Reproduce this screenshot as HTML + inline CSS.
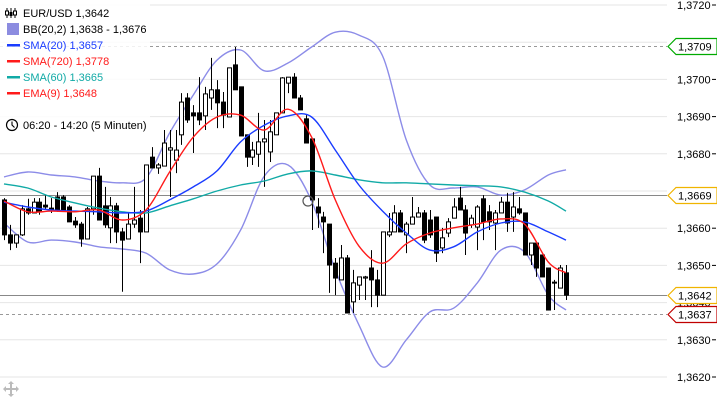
<!DOCTYPE html>
<html><head><meta charset="utf-8"><style>
html,body{margin:0;padding:0;background:#fff;}
svg{display:block;font-family:"Liberation Sans",sans-serif;}
</style></head><body>
<svg id="chart" width="717" height="401" viewBox="0 0 717 401" xmlns="http://www.w3.org/2000/svg">
<g id="grid"></g>
<g id="refs"></g>
<g id="bands"></g>
<g id="candles"></g>
<g id="mas"></g>
<g id="axis"></g>
<g id="badges"></g>
<circle cx="308" cy="201" r="5" fill="none" stroke="#555" stroke-width="1.2"/>
<g font-size="11">
  <rect x="0" y="0" width="150" height="140" fill="#fff" opacity="0.85"/>
  <g>
    <g stroke="#000" stroke-width="1"><line x1="7" y1="8" x2="7" y2="18"/><line x1="11" y1="8" x2="11" y2="18"/><line x1="15" y1="8" x2="15" y2="18"/></g>
    <rect x="5.5" y="11" width="3" height="4" fill="#fff" stroke="#000"/><rect x="9.5" y="12" width="3" height="4" fill="#000"/><rect x="13.5" y="11" width="3" height="4" fill="#fff" stroke="#000"/>
    <text x="23" y="17" fill="#000">EUR/USD 1,3642</text></g>
  <g><rect x="7" y="23" width="12" height="12" fill="#8c8ce0"/><text x="23" y="33" fill="#000">BB(20,2) 1,3638 - 1,3676</text></g>
  <g><rect x="7" y="44" width="13" height="2.5" fill="#1a3cff"/><text x="23" y="49" fill="#1a3cff">SMA(20) 1,3657</text></g>
  <g><rect x="7" y="60" width="13" height="2.5" fill="#ff1a1a"/><text x="23" y="65" fill="#ff1a1a">SMA(720) 1,3778</text></g>
  <g><rect x="7" y="76" width="13" height="2.5" fill="#11aaa6"/><text x="23" y="81" fill="#11aaa6">SMA(60) 1,3665</text></g>
  <g><rect x="7" y="92" width="13" height="2.5" fill="#ff1a1a"/><text x="23" y="97" fill="#ff1a1a">EMA(9) 1,3648</text></g>
  <g><circle cx="12" cy="125" r="5.5" fill="none" stroke="#000" stroke-width="1.2"/><path d="M12 121.5 V125 L14.5 127.5" fill="none" stroke="#000" stroke-width="1.1"/><text x="23" y="129" fill="#000">06:20 - 14:20 (5 Minuten)</text></g>
</g>
<g fill="#bbb">
  <rect x="10" y="384" width="2" height="10"/><rect x="6" y="388" width="10" height="2"/>
  <path d="M11 381 l-3 3 h6z M11 397 l-3 -3 h6z M3 389 l3 -3 v6z M19 389 l-3 -3 v6z"/>
</g>
</svg>
<script>
const tickValues=[1.3720,1.3710,1.3700,1.3690,1.3680,1.3670,1.3660,1.3650,1.3640,1.3630,1.3620];
const tickLabels=["1,3720","1,3710","1,3700","1,3690","1,3680","1,3670","1,3660","1,3650","1,3640","1,3630","1,3620"];
const opens=[1.36676,1.36582,1.36560,1.36582,1.36652,1.36641,1.36670,1.36662,1.36654,1.36684,1.36684,1.36657,1.36619,1.36611,1.36571,1.36652,1.36740,1.36660,1.36601,1.36660,1.36590,1.36571,1.36611,1.36627,1.36590,1.36791,1.36762,1.36767,1.36810,1.36783,1.36851,1.36950,1.36910,1.36910,1.36902,1.36950,1.36972,1.36939,1.36899,1.37039,1.36980,1.36851,1.36791,1.36799,1.36832,1.36805,1.36851,1.36910,1.36990,1.37006,1.36950,1.36894,1.36840,1.36657,1.36630,1.36611,1.36506,1.36461,1.36520,1.36402,1.36447,1.36466,1.36493,1.36461,1.36420,1.36582,1.36590,1.36641,1.36582,1.36611,1.36630,1.36641,1.36622,1.36630,1.36547,1.36587,1.36627,1.36681,1.36649,1.36609,1.36603,1.36679,1.36644,1.36614,1.36641,1.36670,1.36630,1.36652,1.36641,1.36528,1.36560,1.36528,1.36493,1.36455,1.36439,1.36480];
const highs=[1.36681,1.36609,1.36582,1.36662,1.36679,1.36681,1.36681,1.36689,1.36681,1.36697,1.36689,1.36662,1.36630,1.36617,1.36657,1.36740,1.36762,1.36711,1.36684,1.36668,1.36601,1.36641,1.36711,1.36649,1.36770,1.36818,1.36775,1.36864,1.36864,1.36864,1.36963,1.36963,1.36931,1.37006,1.36980,1.37058,1.36998,1.36966,1.37031,1.37087,1.36980,1.36851,1.36832,1.36910,1.36891,1.36891,1.36910,1.37006,1.37006,1.37017,1.36958,1.36904,1.36840,1.36681,1.36644,1.36611,1.36520,1.36555,1.36528,1.36488,1.36469,1.36472,1.36541,1.36488,1.36590,1.36641,1.36662,1.36649,1.36617,1.36684,1.36657,1.36649,1.36649,1.36630,1.36601,1.36627,1.36681,1.36711,1.36662,1.36636,1.36662,1.36689,1.36662,1.36649,1.36684,1.36695,1.36697,1.36684,1.36641,1.36560,1.36560,1.36528,1.36493,1.36461,1.36501,1.36501];
const lows=[1.36568,1.36541,1.36547,1.36579,1.36636,1.36641,1.36636,1.36649,1.36641,1.36644,1.36649,1.36617,1.36601,1.36550,1.36571,1.36636,1.36622,1.36601,1.36560,1.36560,1.36429,1.36571,1.36601,1.36506,1.36590,1.36762,1.36746,1.36767,1.36684,1.36748,1.36824,1.36883,1.36802,1.36877,1.36864,1.36918,1.36869,1.36869,1.36899,1.36972,1.36848,1.36765,1.36770,1.36765,1.36711,1.36778,1.36851,1.36910,1.36963,1.36950,1.36918,1.36829,1.36595,1.36601,1.36533,1.36426,1.36420,1.36461,1.36372,1.36372,1.36407,1.36407,1.36388,1.36388,1.36420,1.36576,1.36590,1.36590,1.36533,1.36611,1.36630,1.36560,1.36574,1.36509,1.36533,1.36576,1.36627,1.36649,1.36528,1.36601,1.36541,1.36568,1.36595,1.36541,1.36641,1.36590,1.36590,1.36636,1.36528,1.36501,1.36469,1.36469,1.36380,1.36380,1.36439,1.36407];
const closes=[1.36582,1.36560,1.36582,1.36652,1.36641,1.36670,1.36644,1.36657,1.36649,1.36649,1.36649,1.36617,1.36609,1.36571,1.36652,1.36740,1.36622,1.36609,1.36660,1.36590,1.36568,1.36611,1.36622,1.36590,1.36770,1.36762,1.36770,1.36829,1.36816,1.36810,1.36939,1.36891,1.36902,1.36891,1.36961,1.36972,1.36937,1.36904,1.37031,1.36972,1.36848,1.36791,1.36810,1.36832,1.36840,1.36859,1.36910,1.37004,1.37006,1.36950,1.36918,1.36829,1.36676,1.36641,1.36617,1.36501,1.36466,1.36520,1.36372,1.36453,1.36469,1.36469,1.36461,1.36420,1.36590,1.36590,1.36641,1.36590,1.36611,1.36630,1.36641,1.36568,1.36582,1.36533,1.36574,1.36617,1.36657,1.36649,1.36587,1.36627,1.36657,1.36617,1.36617,1.36641,1.36670,1.36614,1.36657,1.36641,1.36528,1.36560,1.36493,1.36469,1.36380,1.36453,1.36493,1.36420];
const sampleIdx=[0,4,8,12,16,20,24,28,32,36,40,44,48,52,56,60,64,68,72,76,80,84,88,92,95];
const sma20=[1.36670,1.36657,1.36649,1.36646,1.36644,1.36641,1.36646,1.36676,1.36711,1.36754,1.36832,1.36877,1.36902,1.36899,1.36810,1.36716,1.36646,1.36587,1.36541,1.36550,1.36590,1.36614,1.36617,1.36590,1.36568];
const ema9=[1.36673,1.36644,1.36646,1.36644,1.36649,1.36622,1.36649,1.36751,1.36845,1.36899,1.36904,1.36864,1.36920,1.36845,1.36676,1.36552,1.36506,1.36558,1.36587,1.36601,1.36611,1.36625,1.36611,1.36509,1.36480];
const sma60=[1.36719,1.36708,1.36684,1.36668,1.36654,1.36644,1.36641,1.36660,1.36679,1.36700,1.36716,1.36727,1.36746,1.36754,1.36743,1.36730,1.36722,1.36722,1.36719,1.36716,1.36714,1.36711,1.36697,1.36673,1.36646];
const bbUpper=[1.36738,1.36751,1.36743,1.36738,1.36727,1.36722,1.36735,1.36856,1.36958,1.37052,1.37079,1.37023,1.37044,1.37087,1.37127,1.37119,1.37063,1.36837,1.36716,1.36708,1.36711,1.36689,1.36703,1.36743,1.36757];
const bbLower=[1.36614,1.36563,1.36568,1.36563,1.36550,1.36544,1.36533,1.36488,1.36477,1.36504,1.36595,1.36740,1.36770,1.36673,1.36488,1.36340,1.36227,1.36300,1.36375,1.36385,1.36453,1.36541,1.36536,1.36420,1.36380];
const refValues=[1.3709,1.3669,1.3642,1.3637];
const refLabels=["1,3709","1,3669","1,3642","1,3637"];

const NS="http://www.w3.org/2000/svg";
const yMax=1.3720, yMin=1.3620, yTop=5, yBot=377, plotRight=667;
function yScale(v){return yTop+(yMax-v)/(yMax-yMin)*(yBot-yTop);}
function xScale(i){return 4+i*(562/95);}
function mk(tag,attrs,parent){const e=document.createElementNS(NS,tag);for(const k in attrs)e.setAttribute(k,attrs[k]);parent.appendChild(e);return e;}

const grid=document.getElementById('grid'), axis=document.getElementById('axis');
tickValues.forEach((v,i)=>{
  const y=yScale(v);
  const gl=mk('line',{x1:0,x2:plotRight,y1:y,y2:y,stroke:'#e6e6e6','stroke-width':1},grid);
  
  
  const t=mk('text',{x:677,y:y+4,'font-size':11,fill:'#000'},axis);
  
  
  t.textContent=tickLabels[i];
  const tk=mk('line',{x1:712,x2:716,y1:y,y2:y,stroke:'#000'},axis);
  
  
});

const refs=document.getElementById('refs');
const refStyles=[{dash:'3,3',col:'#999',badge:'#00aa00'},{dash:'',col:'#888',badge:'#f0b400'},{dash:'',col:'#888',badge:'#f0b400'},{dash:'3,3',col:'#999',badge:'#c00000'}];
const badges=document.getElementById('badges');
refValues.forEach((v,i)=>{
  const y=Math.round(yScale(v))+0.5, s=refStyles[i];
  const l=mk('line',{x1:0,x2:plotRight,y1:y,y2:y,stroke:s.col,'stroke-width':1},refs);
  if(s.dash)l.setAttribute('stroke-dasharray',s.dash);
  
  
  const p=mk('path',{d:`M668 ${y} L676 ${y-8} H717 V${y+8} H676 Z`,fill:'#fff',stroke:s.badge,'stroke-width':1.2},badges);
  
  
  const t=mk('text',{x:678,y:y+4,'font-size':11,fill:'#000'},badges);
  
  
  t.textContent=refLabels[i];
});

function drawLine(vals,color,w,parent,name){
  const P=vals.map((v,k)=>[xScale(sampleIdx[k]),yScale(v)]);
  let d='M'+P[0][0].toFixed(1)+' '+P[0][1].toFixed(1);
  for(let k=0;k<P.length-1;k++){
    const p0=P[Math.max(0,k-1)],p1=P[k],p2=P[k+1],p3=P[Math.min(P.length-1,k+2)];
    const c1x=p1[0]+(p2[0]-p0[0])/6,c1y=p1[1]+(p2[1]-p0[1])/6;
    const c2x=p2[0]-(p3[0]-p1[0])/6,c2y=p2[1]-(p3[1]-p1[1])/6;
    d+=` C${c1x.toFixed(1)} ${c1y.toFixed(1)} ${c2x.toFixed(1)} ${c2y.toFixed(1)} ${p2[0].toFixed(1)} ${p2[1].toFixed(1)}`;
  }
  const pl=mk('path',{d:d,fill:'none',stroke:color,'stroke-width':w,'stroke-linejoin':'round'},parent);
  
  
}
const bands=document.getElementById('bands');
drawLine(bbUpper,'#8c8ce8',1.4,bands,'bb-upper-line');
drawLine(bbLower,'#8c8ce8',1.4,bands,'bb-lower-line');

const cg=document.getElementById('candles');
opens.forEach((o,i)=>{
  const x=Math.round(xScale(i))+0.5, c=closes[i];
  const wk=mk('line',{x1:x,x2:x,y1:yScale(highs[i]),y2:yScale(lows[i]),stroke:'#000','stroke-width':1},cg);
  
  
  const top=yScale(Math.max(o,c)), bot=yScale(Math.min(o,c));
  const bull=c>o;
  const r=mk('rect',{x:x-2,y:top,width:4,height:Math.max(1,bot-top),fill:bull?'#fff':'#000',stroke:'#000','stroke-width':1},cg);
  
  
});

const mas=document.getElementById('mas');
drawLine(sma60,'#11aaa6',1.4,mas,'sma60-line');
drawLine(sma20,'#1a3cff',1.4,mas,'sma20-line');
drawLine(ema9,'#ff1a1a',1.4,mas,'ema9-line');
</script>
</body></html>
